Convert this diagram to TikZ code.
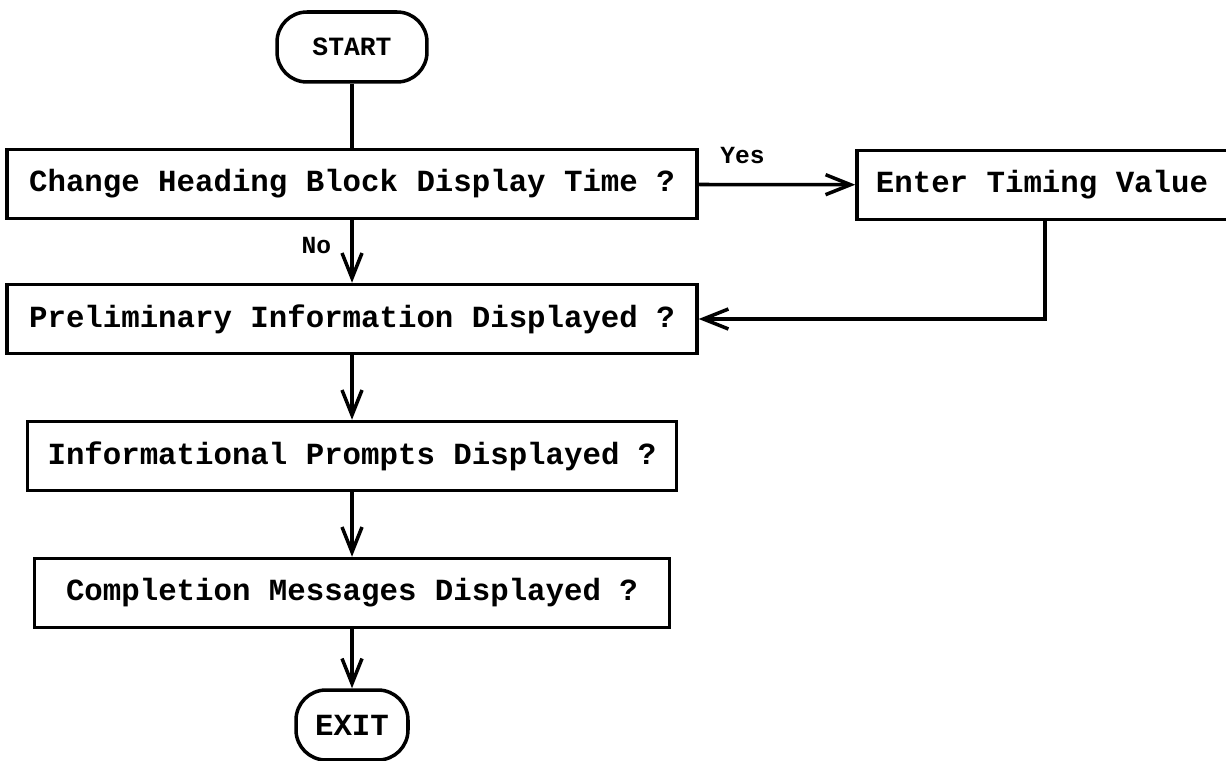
\documentclass[tikz,border=0pt]{standalone}
\usepackage{fontspec}
\setmainfont{Liberation Mono}
\usetikzlibrary{arrows.meta}

\begin{document}
\begin{tikzpicture}[x=0.02cm, y=-0.02cm, line width=2pt,
        boite/.style={draw, rectangle, minimum height=1.38cm, inner sep=0pt, font=\fontsize{17.5}{20}\selectfont\bfseries},
        terminal/.style={draw, rectangle, rounded corners=0.6cm, minimum height=1.4cm, inner sep=0pt},
        fleche/.style={-{Straight Barb[length=5mm, width=4mm]}},
        etiquette/.style={font=\fontsize{14}{16}\selectfont\bfseries, inner sep=0pt}]
        \useasboundingbox (0,0) rectangle (1226,760);
        % Debut et fin
        \node[terminal, minimum width=3cm, font=\fontsize{15}{17}\selectfont\bfseries] (start) at (352,47) {START};
        \node[terminal, minimum width=2.24cm, font=\fontsize{17.5}{20}\selectfont\bfseries] (exit) at (352,725) {EXIT};
        % Blocs
        \node[boite, minimum width=13.8cm] (change) at (352,184) {Change Heading Block Display Time ?};
        \node[boite, minimum width=7.76cm] (enter) at (1051,185) {\hspace*{-0.36cm}Enter Timing Value};
        \node[boite, minimum width=13.8cm] (prelim) at (352,319) {Preliminary Information Displayed ?};
        \node[boite, minimum width=12.98cm] (info) at (352,456) {Informational Prompts Displayed ?};
        \node[boite, minimum width=12.7cm] (compl) at (352,593) {Completion Messages Displayed ?};
        % Retour
        \coordinate (retour) at ([xshift=-0.12cm]enter.south);
        % Liaisons
        \draw (start) -- (change);
        \draw[fleche] (change) -- (enter) node[etiquette, pos=0.28, above=0.38cm] {Yes};
        \draw[fleche] (change) -- (prelim) node[etiquette, pos=0.4, left=0.38cm] {No};
        \draw[fleche] (retour) |- (prelim.east);
        \draw[fleche] (prelim) -- (info);
        \draw[fleche] (info) -- (compl);
        \draw[fleche] (compl) -- (exit);
    \end{tikzpicture}
\end{document}
